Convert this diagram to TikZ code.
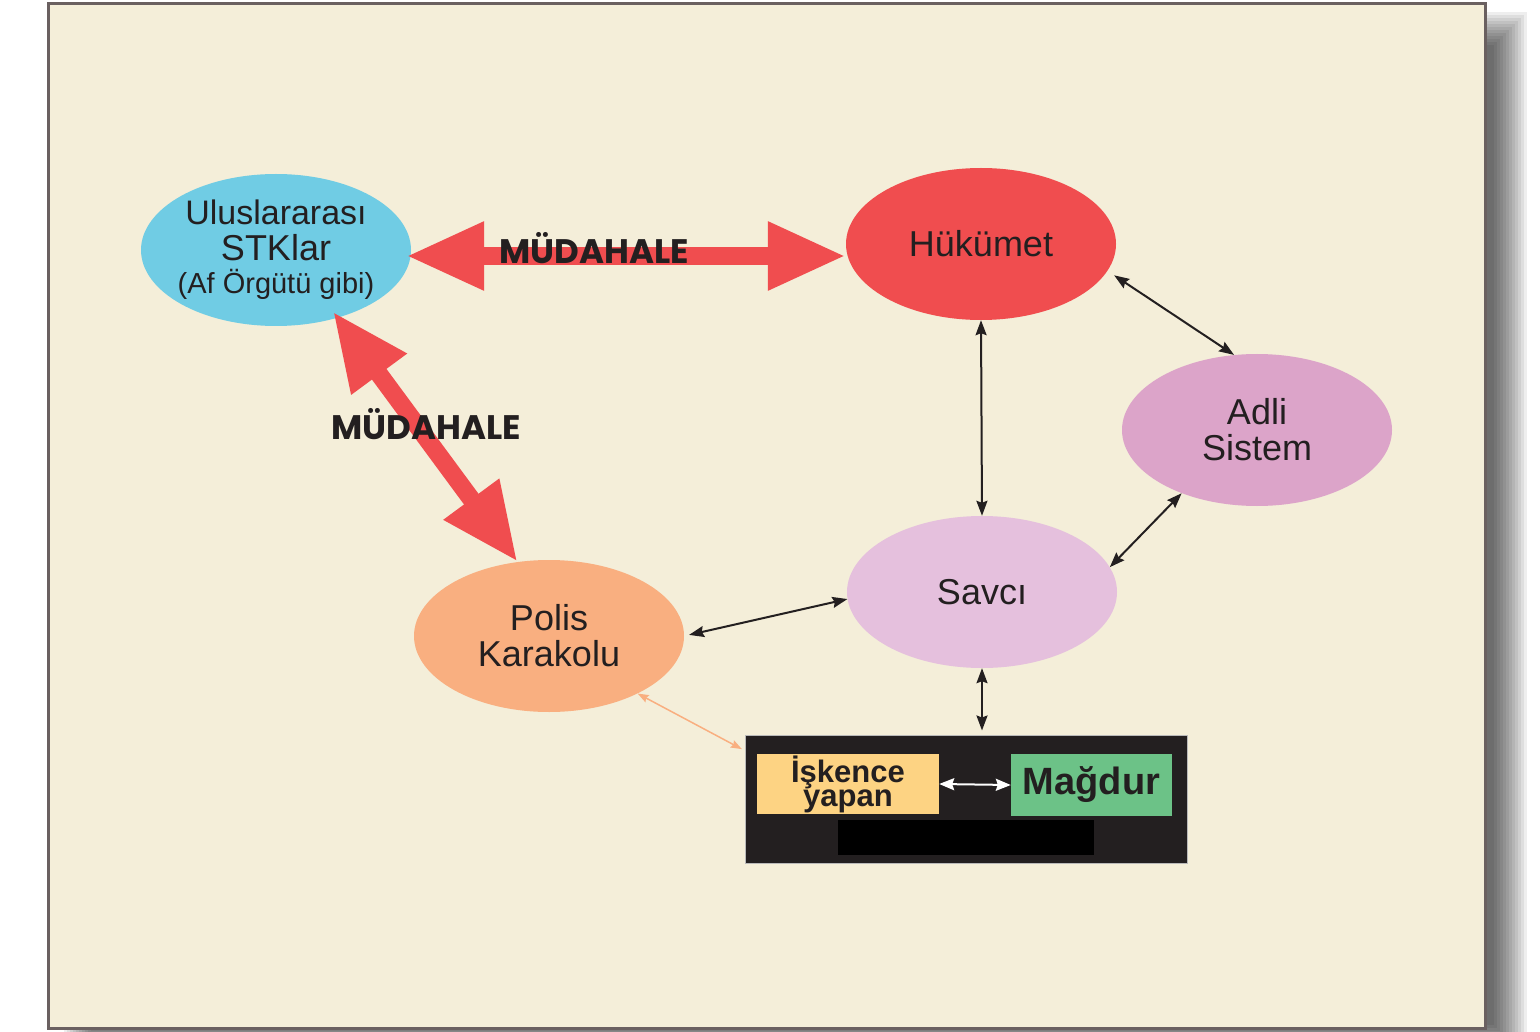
\documentclass[tikz,border=0pt]{standalone}
\usepackage{fontspec}
\setmainfont{Liberation Sans}
\newfontfamily\geofont{Poppins}
\usetikzlibrary{arrows.meta,shapes.geometric,calc}
\definecolor{cream}{HTML}{F4EED9}
\definecolor{panelborder}{HTML}{6A6060}
\definecolor{stkblue}{HTML}{70CCE4}
\definecolor{hukred}{HTML}{F04D4F}
\definecolor{adlipink}{HTML}{DCA4C9}
\definecolor{savpink}{HTML}{E5C0DD}
\definecolor{polorange}{HTML}{F9AF80}
\definecolor{boxblack}{HTML}{231F20}
\definecolor{iyellow}{HTML}{FDD383}
\definecolor{mgreen}{HTML}{6CC287}
\definecolor{txt}{HTML}{231F20}
\tikzset{
  ell/.style={ellipse, minimum width=270pt, minimum height=152pt, inner sep=-20pt,
    align=center, text=txt, font=\fontsize{36}{36}\selectfont},
  bigarrow/.style={draw=hukred, line width=18pt,
    {Triangle[length=78pt,width=64pt]}-{Triangle[length=78pt,width=64pt]}},
  conn/.style={draw=txt, line width=2pt,
    {Stealth[length=15pt,width=11pt,inset=2pt]}-{Stealth[length=15pt,width=11pt,inset=2pt]}},
  mlabel/.style={text=txt, font=\geofont\bfseries\fontsize{34}{36}\selectfont, inner sep=0pt}
}
\begin{document}
\begin{tikzpicture}[x=1pt,y=-1pt]
\useasboundingbox (0,0) rectangle (1540,1032);
\fill[white] (0,0) rectangle (1540,1032);
% shadow
\foreach \i in {0,...,11}{
  \fill[black,opacity=0.065] (64+3*\i,12+3*\i) rectangle (1527-3*\i,1058-3*\i);
}
% panel
\draw[line width=3pt, draw=panelborder, fill=cream] (48,4) rectangle (1485,1028);

% nodes
\node[ell, fill=stkblue] (stk) at (276,250)
  {\fontsize{34}{33}\selectfont Uluslararası\\STKlar\\[-3pt]\fontsize{29}{29}\selectfont(Af Örgütü gibi)};
\node[ell, fill=hukred] (huk) at (981,244) {Hükümet};
\node[ell, fill=adlipink] (adli) at (1257,430) {Adli\\Sistem};
\node[ell, fill=savpink] (sav) at (982,592) {Savcı};
\node[ell, fill=polorange] (pol) at (549,636) {Polis\\Karakolu};

\node[rectangle, fill=boxblack, draw=gray!55, line width=1pt, minimum width=442pt,
  minimum height=128pt, inner sep=0pt] (box) at (966,799) {};
\node[rectangle, fill=iyellow, minimum width=182pt, minimum height=60pt, inner sep=0pt,
  align=center, text=txt, font=\bfseries\fontsize{31}{24}\selectfont] (isk) at (848,784) {İşkence\\yapan};
\node[rectangle, fill=mgreen, minimum width=161pt, minimum height=62pt, inner sep=0pt,
  text=txt, font=\bfseries\fontsize{38}{40}\selectfont] (mag) at (1091.5,785) {Mağdur};
\node[rectangle, fill=black, minimum width=256pt, minimum height=35pt, inner sep=0pt] (bar) at (966,837.5) {};

% big red arrows
\draw[bigarrow] ($(stk.east)+(-5,6)$) -- ($(huk.west)+(0,12)$);
\draw[bigarrow] ($(stk.-47)+(-6,-6)$) -- (pol.113);
\node[mlabel] (m1) at (594,248) {MÜDAHALE};
\node[mlabel] (m2) at (426,424) {MÜDAHALE};

% thin connectors
\draw[conn, shorten <=8pt] (huk.-12) -- (adli.107);
\draw[conn] (huk.south) -- (sav.north);
\draw[conn] (adli.-140) -- (sav.11);
\draw[conn, shorten >=5pt] (sav.-177) -- (pol.east);
\draw[conn, shorten >=4pt] (sav.south) -- (sav.south |- box.north);
\draw[draw=polorange, line width=1.5pt,
  {Stealth[length=11pt,width=8pt,inset=1.5pt]}-{Stealth[length=11pt,width=8pt,inset=1.5pt]},
  shorten >=3pt] (pol.-33) -- ($(box.north west)+(0,16)$);
\draw[draw=white, line width=2pt,
  {Stealth[length=15pt,width=12pt,inset=2pt]}-{Stealth[length=15pt,width=12pt,inset=2pt]}]
  (isk.east) -- (mag.west);
\end{tikzpicture}
\end{document}
